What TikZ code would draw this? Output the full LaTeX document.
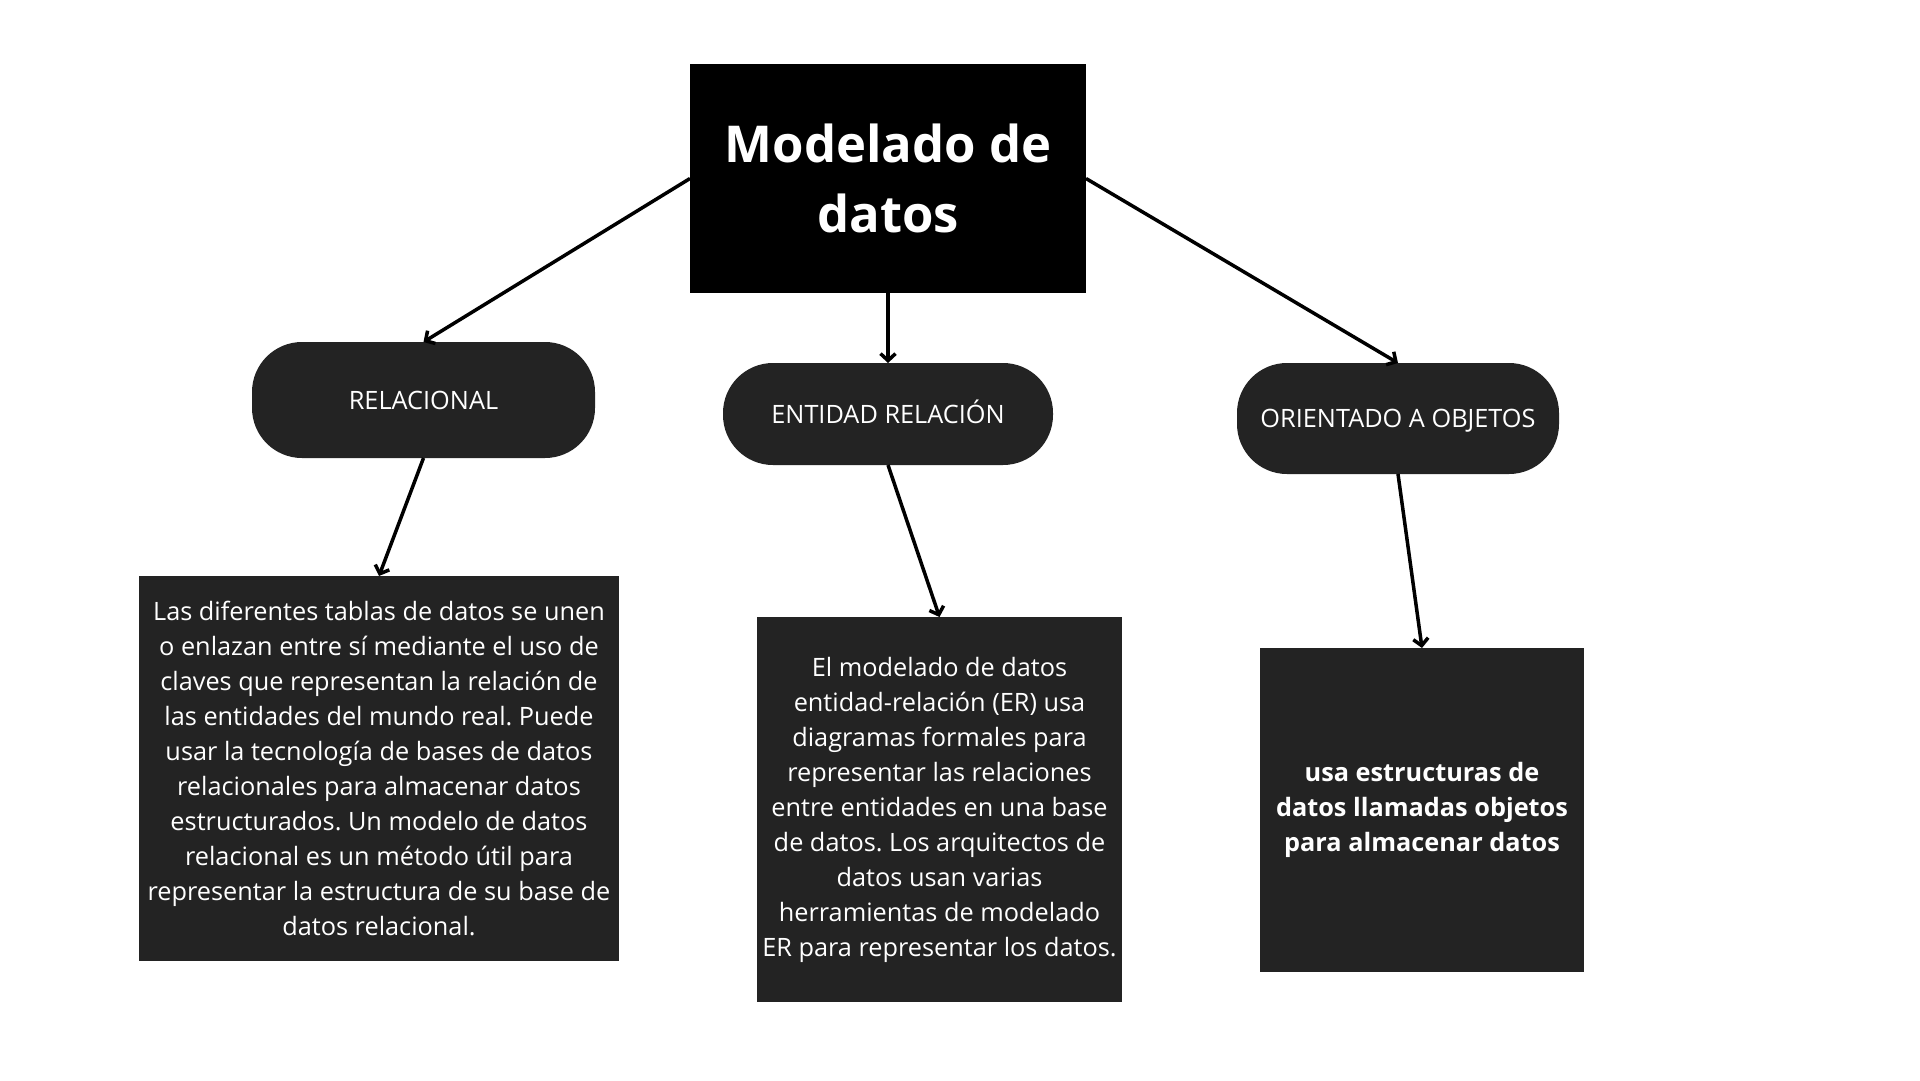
\documentclass[tikz,border=0pt]{standalone}
\usepackage{fontspec}
\setmainfont{Open Sans}
\usetikzlibrary{arrows.meta}
\definecolor{dark}{HTML}{232323}
\frenchspacing
\begin{document}
\begin{tikzpicture}[x=1pt,y=-1pt,
  box/.style={fill=dark,inner sep=0pt,outer sep=0pt,text=white,align=center,
    font=\frenchspacing\fontsize{25.3}{35}\selectfont},
  pill/.style={fill=dark,rounded corners=50pt,inner sep=0pt,outer sep=0pt,text=white,
    text height=18pt,text depth=0pt,font=\fontsize{25.3}{30}\selectfont},
  conn/.style={line width=3.5pt,-{Straight Barb[length=7pt,width=15pt]}}]
\fill[white] (0,0) rectangle (1920,1080);
\node[box,fill=black,minimum width=396pt,minimum height=229pt,
  font=\bfseries\fontsize{50.8}{70}\selectfont] (title) at (888,178.5) {Modelado de\\datos};
\node[pill,minimum width=343pt,minimum height=116pt] (rel) at (423.5,400) {RELACIONAL};
\node[pill,minimum width=330pt,minimum height=102pt] (ent) at (888,414) {ENTIDAD RELACIÓN};
\node[pill,minimum width=322pt,minimum height=111pt] (oo) at (1398,418.5) {ORIENTADO A OBJETOS};
\node[box,minimum width=480pt,minimum height=385pt] (b1) at (379,768.5)
 {Las diferentes tablas de datos se unen\\
  o enlazan entre sí mediante el uso de\\
  claves que representan la relación de\\
  las entidades del mundo real. Puede\\
  usar la tecnología de bases de datos\\
  relacionales para almacenar datos\\
  estructurados. Un modelo de datos\\
  relacional es un método útil para\\
  representar la estructura de su base de\\
  datos relacional.};
\node[box,minimum width=365pt,minimum height=385pt] (b2) at (939.5,809.5)
 {El modelado de datos\\
  entidad-relación (ER) usa\\
  diagramas formales para\\
  representar las relaciones\\
  entre entidades en una base\\
  de datos. Los arquitectos de\\
  datos usan varias\\
  herramientas de modelado\\
  ER para representar los datos.};
\node[box,minimum width=324pt,minimum height=324pt,font=\frenchspacing\bfseries\fontsize{25.3}{35}\selectfont] (b3) at (1422,810)
 {usa estructuras de\\
  datos llamadas objetos\\
  para almacenar datos};
\draw[conn] (title.west) -- (rel.north);
\draw[conn] (title.south) -- (ent.north);
\draw[conn] (title.east) -- (oo.north);
\draw[conn] (rel.south) -- (b1.north);
\draw[conn] (ent.south) -- (b2.north);
\draw[conn] (oo.south) -- (b3.north);
\end{tikzpicture}
\end{document}
